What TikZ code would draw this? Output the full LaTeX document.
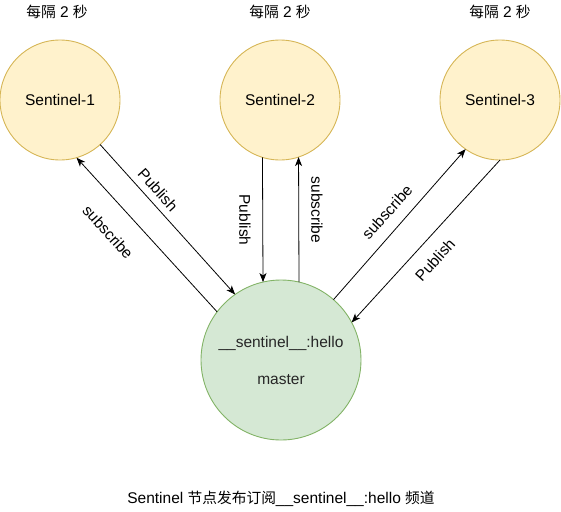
\documentclass[tikz,border=0pt]{standalone}
\usepackage{fontspec}
\setmainfont{Liberation Sans}
\newfontfamily\cjk[Scale=0.95]{Noto Sans CJK SC}
\usetikzlibrary{arrows.meta}
\definecolor{yfill}{HTML}{FFF2CC}
\definecolor{ydraw}{HTML}{D6B656}
\definecolor{gfill}{HTML}{D5E8D4}
\definecolor{gdraw}{HTML}{82B366}
\begin{document}
\begin{tikzpicture}[x=1pt,y=-1pt,
  every node/.style={font=\fontsize{15.5}{19}\selectfont, inner sep=0pt, outer sep=0pt},
  sentinel/.style={circle, draw=ydraw, fill=yfill, minimum size=120pt, line width=0.9pt},
  masterc/.style={circle, draw=gdraw, fill=gfill, minimum size=160pt, line width=0.9pt, align=center, text=black!85},
  conn/.style={-{Stealth[length=9pt,width=7pt,inset=2.5pt]}, line width=0.8pt},
  lbl/.style={text=black}]
\useasboundingbox (0,0) rectangle (561,511);
\node[sentinel] (s1) at (60,100) {Sentinel-1};
\node[sentinel] (s2) at (280,100) {Sentinel-2};
\node[sentinel] (s3) at (500,100) {Sentinel-3};
\node[masterc] (m) at (281,360) {\_\_sentinel\_\_:hello\\[18pt]master};
\node[lbl] (t1) at (57,12) {{\cjk 每隔} 2 {\cjk 秒}};
\node[lbl] (t2) at (280,12) {{\cjk 每隔} 2 {\cjk 秒}};
\node[lbl] (t3) at (500,12) {{\cjk 每隔} 2 {\cjk 秒}};
\node[lbl] (cap) at (281,499) {Sentinel {\cjk 节点发布订阅}\_\_sentinel\_\_:hello {\cjk 频道}};
\draw[conn] (s1.-48.4) -- (m.125.5);
\draw[conn] (m.143.7) -- (s1.-74.8);
\draw[conn] (s2.-107.46) -- (m.103);
\draw[conn] (m.77) -- (s2.-72.54);
\draw[conn] (m.49) -- (s3.-125.4);
\draw[conn] (s3.-90) -- (m.28.4);
\node[lbl, rotate=-48] (lp1) at (158,190) {Publish};
\node[lbl, rotate=-48] (ls1) at (108,232) {subscribe};
\node[lbl, rotate=-90] (lp2) at (245,220) {Publish};
\node[lbl, rotate=-90] (ls2) at (317,210) {subscribe};
\node[lbl, rotate=48] (ls3) at (387,212) {subscribe};
\node[lbl, rotate=48] (lp3) at (435,260) {Publish};
\end{tikzpicture}
\end{document}
